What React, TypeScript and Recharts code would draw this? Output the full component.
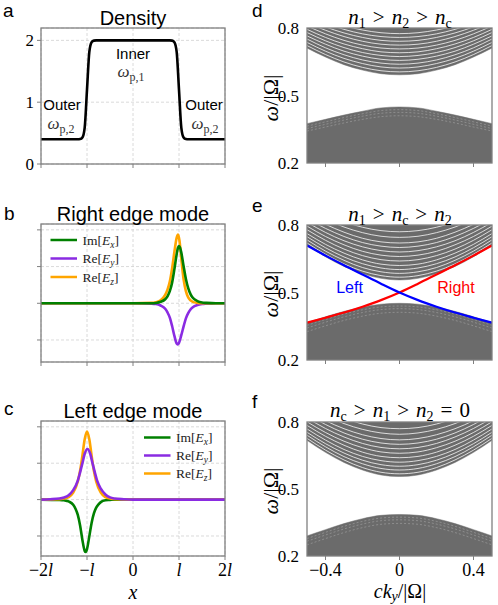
import React from "react";
import { ComposedChart, LineChart, Line, Area, XAxis, YAxis, CartesianGrid } from "recharts";

const SANS = "'Liberation Sans', Arial, sans-serif";
const SERIF = "'Liberation Serif', 'Times New Roman', serif";
const GRAY_AXIS = "#808080";
const BAND = "#6b6b6b";

// ---------- left column ----------
const leftXTicks = [-2, -1, 0, 1, 2];
const leftXTickLabels = ["−2l", "−l", "0", "l", "2l"];
const densityYTicks = [0, 1, 2];
const densityYTickLabels = ["0", "1", "2"];
const modeYTicks = [-1, 0, 1, 2];

const densityX = [-2, -1.2, -1.15, -1.1, -1.05, -1.0, -0.95, -0.9, -0.85, -0.8, 0.8, 0.85, 0.9, 0.95, 1.0, 1.05, 1.1, 1.15, 1.2, 2];
const densityY = [0.4, 0.4, 0.404, 0.43, 0.59, 1.2, 1.81, 1.97, 1.996, 2, 2, 1.996, 1.97, 1.81, 1.2, 0.59, 0.43, 0.404, 0.4, 0.4];

// right edge mode (panel b)
const rImExX = [-2, 0, 0.4, 0.5, 0.6, 0.7, 0.75, 0.8, 0.85, 0.9, 0.95, 0.975, 1.0, 1.025, 1.05, 1.1, 1.15, 1.2, 1.25, 1.3, 1.4, 1.5, 1.6, 1.8, 2];
const rImExY = [0, 0, 0, 0.01, 0.04, 0.11, 0.19, 0.33, 0.56, 0.93, 1.34, 1.5, 1.56, 1.51, 1.38, 1.01, 0.66, 0.41, 0.25, 0.15, 0.06, 0.02, 0.01, 0, 0];
const rReEyX = [-2, 0, 0.4, 0.5, 0.6, 0.7, 0.75, 0.8, 0.85, 0.9, 0.95, 0.97, 1.0, 1.05, 1.1, 1.15, 1.2, 1.25, 1.3, 1.4, 1.5, 1.6, 1.8, 2];
const rReEyY = [0, 0, -0.01, -0.02, -0.06, -0.15, -0.25, -0.39, -0.62, -0.89, -1.1, -1.12, -1.08, -0.87, -0.63, -0.41, -0.27, -0.17, -0.11, -0.05, -0.02, -0.01, 0, 0];
const rReEzX = [-2, 0, 0.4, 0.5, 0.6, 0.7, 0.75, 0.8, 0.85, 0.9, 0.95, 0.98, 1.01, 1.05, 1.1, 1.15, 1.2, 1.25, 1.3, 1.4, 1.5, 2];
const rReEzY = [0, 0, 0.01, 0.03, 0.08, 0.23, 0.37, 0.59, 0.95, 1.4, 1.79, 1.87, 1.71, 1.21, 0.65, 0.33, 0.16, 0.08, 0.04, 0.01, 0, 0];

// left edge mode (panel c)
const lImExX = [-2, -1.6, -1.5, -1.4, -1.3, -1.25, -1.2, -1.15, -1.1, -1.05, -1.03, -1.0, -0.95, -0.9, -0.85, -0.8, -0.75, -0.7, -0.6, -0.5, -0.4, 0, 2];
const lImExY = [0, -0.01, -0.02, -0.05, -0.14, -0.25, -0.42, -0.71, -1.11, -1.41, -1.44, -1.36, -1.01, -0.64, -0.38, -0.22, -0.13, -0.07, -0.02, -0.01, 0, 0, 0];
const lReEyX = [-2, -1.8, -1.6, -1.5, -1.4, -1.3, -1.2, -1.15, -1.1, -1.05, -0.99, -0.93, -0.88, -0.83, -0.78, -0.7, -0.6, -0.5, -0.4, -0.2, 0, 2];
const lReEyY = [0, 0.01, 0.03, 0.06, 0.12, 0.26, 0.52, 0.75, 1.0, 1.26, 1.39, 1.26, 1.0, 0.75, 0.52, 0.3, 0.14, 0.06, 0.03, 0.01, 0, 0];
const lReEzX = [-2, -1.6, -1.5, -1.4, -1.3, -1.2, -1.15, -1.1, -1.05, -1.0, -0.95, -0.9, -0.85, -0.8, -0.7, -0.6, -0.5, -0.4, 0, 2];
const lReEzY = [0, 0.01, 0.03, 0.07, 0.19, 0.5, 0.79, 1.21, 1.66, 1.87, 1.66, 1.21, 0.79, 0.5, 0.19, 0.07, 0.03, 0.01, 0, 0];

// ---------- right column (band structures) ----------
const kValues = [-0.5, -0.4, -0.3, -0.2, -0.1, 0, 0.1, 0.2, 0.3, 0.4, 0.5];
const rightXTicks = [-0.4, 0, 0.4];
const rightXTickLabels = ["−0.4", "0", "0.4"];
const rightYTicks = [0.2, 0.5, 0.8];
const rightYTickLabels = ["0.2", "0.5", "0.8"];

// symmetric halves: values at k = 0, 0.1, ..., 0.5
const dUpperEdge = [0.592, 0.597, 0.613, 0.637, 0.671, 0.711];
const dLowerEdge = [0.449, 0.445, 0.43, 0.413, 0.394, 0.375];
const dStripes = [
  [0.605, 0.61, 0.625, 0.649, 0.682, 0.722],
  [0.622, 0.627, 0.642, 0.665, 0.697, 0.736],
  [0.639, 0.644, 0.658, 0.681, 0.712, 0.751],
  [0.656, 0.661, 0.675, 0.697, 0.728, 0.765],
  [0.673, 0.678, 0.691, 0.713, 0.743, 0.78],
  [0.69, 0.694, 0.708, 0.729, 0.758, 0.794],
  [0.707, 0.711, 0.724, 0.745, 0.774, 0.809],
  [0.724, 0.728, 0.741, 0.762, 0.79, 0.823],
  [0.741, 0.745, 0.758, 0.778, 0.805, 0.839],
  [0.758, 0.762, 0.774, 0.794, 0.82, 0.85],
  [0.775, 0.779, 0.791, 0.81, 0.84, 0.87],
];
const dLowStripes = [
  [0.437, 0.433, 0.419, 0.402, 0.383, 0.364],
  [0.425, 0.421, 0.408, 0.391, 0.372, 0.353],
  [0.41, 0.406, 0.394, 0.378, 0.36, 0.342],
];

const eUpperEdge = [0.556, 0.563, 0.584, 0.616, 0.659, 0.711];
const eLowerEdge = [0.452, 0.448, 0.435, 0.416, 0.392, 0.366];
const eStripes = [
  [0.568, 0.575, 0.595, 0.627, 0.67, 0.72],
  [0.585, 0.592, 0.611, 0.643, 0.684, 0.734],
  [0.602, 0.609, 0.628, 0.658, 0.699, 0.748],
  [0.62, 0.626, 0.645, 0.675, 0.714, 0.762],
  [0.64, 0.646, 0.664, 0.693, 0.732, 0.779],
  [0.66, 0.666, 0.683, 0.712, 0.749, 0.795],
  [0.68, 0.686, 0.703, 0.73, 0.767, 0.812],
  [0.7, 0.706, 0.722, 0.749, 0.785, 0.828],
  [0.72, 0.725, 0.741, 0.768, 0.803, 0.844],
  [0.745, 0.75, 0.766, 0.791, 0.826, 0.867],
  [0.77, 0.775, 0.79, 0.815, 0.849, 0.889],
];
const eLowStripes = [
  [0.44, 0.436, 0.423, 0.404, 0.38, 0.354],
  [0.428, 0.424, 0.411, 0.392, 0.368, 0.342],
  [0.412, 0.408, 0.395, 0.376, 0.352, 0.326],
];
// edge-state branches (full k range, -0.5 .. 0.5)
const eLeftBranch = [0.709, 0.664, 0.621, 0.58, 0.539, 0.5, 0.466, 0.437, 0.411, 0.388, 0.366];
const eRightBranch = [0.366, 0.388, 0.411, 0.437, 0.466, 0.5, 0.539, 0.58, 0.621, 0.664, 0.709];

const fUpperEdge = [0.556, 0.563, 0.585, 0.619, 0.664, 0.718];
const fLowerEdge = [0.386, 0.382, 0.367, 0.345, 0.318, 0.29];
const fStripes = [
  [0.568, 0.575, 0.596, 0.63, 0.674, 0.727],
  [0.585, 0.592, 0.613, 0.645, 0.689, 0.741],
  [0.602, 0.609, 0.629, 0.661, 0.703, 0.754],
  [0.62, 0.627, 0.646, 0.677, 0.719, 0.769],
  [0.64, 0.646, 0.665, 0.696, 0.736, 0.785],
  [0.66, 0.666, 0.685, 0.714, 0.753, 0.801],
  [0.68, 0.686, 0.704, 0.733, 0.771, 0.818],
  [0.7, 0.706, 0.723, 0.751, 0.789, 0.834],
  [0.72, 0.726, 0.743, 0.77, 0.806, 0.851],
  [0.745, 0.751, 0.767, 0.793, 0.828, 0.871],
  [0.77, 0.775, 0.791, 0.817, 0.851, 0.892],
];
const fLowStripes = [
  [0.374, 0.37, 0.355, 0.333, 0.306, 0.278],
  [0.362, 0.358, 0.343, 0.321, 0.294, 0.266],
  [0.346, 0.342, 0.327, 0.305, 0.278, 0.25],
];

// ---------- helpers ----------
const pts = (xs: number[], ys: number[]) => xs.map((x, i) => ({ x, y: ys[i] }));
const mirror = (half: number[]) => [...half.slice(1).reverse(), ...half];

function bandRows(upper: number[], lower: number[], stripes: number[][], lowStripes: number[][], left?: number[], right?: number[]) {
  const up = mirror(upper);
  const lo = mirror(lower);
  const st = stripes.map(mirror);
  const lst = lowStripes.map(mirror);
  return kValues.map((k, i) => {
    const row: any = { k, up: up[i], lo: lo[i] };
    st.forEach((s, j) => (row["s" + j] = s[i]));
    lst.forEach((s, j) => (row["t" + j] = s[i]));
    if (left) row.left = left[i];
    if (right) row.right = right[i];
    return row;
  });
}

const dRows = bandRows(dUpperEdge, dLowerEdge, dStripes, dLowStripes);
const eRows = bandRows(eUpperEdge, eLowerEdge, eStripes, eLowStripes, eLeftBranch, eRightBranch);
const fRows = bandRows(fUpperEdge, fLowerEdge, fStripes, fLowStripes);

type Box = { left: number; top: number; w: number; h: number };
const boxA: Box = { left: 41, top: 28, w: 184, h: 136 };
const boxB: Box = { left: 41, top: 224, w: 184, h: 138 };
const boxC: Box = { left: 41, top: 421, w: 184, h: 135 };
const boxD: Box = { left: 307, top: 28, w: 185, h: 135 };
const boxE: Box = { left: 307, top: 225, w: 185, h: 135 };
const boxF: Box = { left: 307, top: 422, w: 185, h: 134 };

const Empty = () => <g />;

function renderMathLabel(lab: string) {
  if (lab.endsWith("l")) {
    return [
      <tspan key="a">{lab.slice(0, -1)}</tspan>,
      <tspan key="b" fontStyle="italic">l</tspan>,
    ];
  }
  return lab;
}

const makeBottomTick = (ticks: number[], labels: string[]) => (props: any) => {
  const { x, y, payload } = props;
  const idx = ticks.findIndex((t) => Math.abs(t - payload.value) < 1e-9);
  const lab = idx >= 0 ? labels[idx] : "";
  return (
    <text x={x} y={y + 14} textAnchor="middle" fontFamily={SERIF} fontSize={18} fill="#000">
      {renderMathLabel(lab)}
    </text>
  );
};

const makeLeftTick = (ticks: number[], labels: string[]) => (props: any) => {
  const { x, y, payload } = props;
  const idx = ticks.findIndex((t) => Math.abs(t - payload.value) < 1e-9);
  const lab = idx >= 0 ? labels[idx] : "";
  return (
    <text x={x} y={y + 6} textAnchor="end" fontFamily={SERIF} fontSize={17} fill="#000">
      {lab}
    </text>
  );
};

const wrap = (b: Box): React.CSSProperties => ({ position: "absolute", left: b.left - 40, top: b.top - 10 });
const M = { top: 10, right: 10, bottom: 0, left: 0 };

function LeftPanel(props: {
  box: Box;
  yDomain: [number, number];
  yTicks: number[];
  yLabels?: string[];
  xLabels?: boolean;
  children: React.ReactNode;
}) {
  const { box, yDomain, yTicks, yLabels, xLabels } = props;
  return (
    <div style={wrap(box)}>
      <LineChart width={box.w + 50} height={box.h + 40} margin={M}>
        <CartesianGrid stroke="#d0d0d0" strokeDasharray="3 2" strokeWidth={0.8} />
        <XAxis
          dataKey="x"
          type="number"
          domain={[-2, 2]}
          ticks={leftXTicks}
          height={30}
          axisLine={false}
          tickSize={4}
          tickLine={{ stroke: GRAY_AXIS }}
          tick={xLabels ? makeBottomTick(leftXTicks, leftXTickLabels) : Empty}
          allowDataOverflow
        />
        <YAxis
          type="number"
          domain={yDomain}
          ticks={yTicks}
          width={40}
          axisLine={false}
          tickSize={4}
          tickLine={{ stroke: GRAY_AXIS }}
          tickMargin={3}
          tick={yLabels ? makeLeftTick(yTicks, yLabels) : Empty}
          allowDataOverflow
        />
        {props.children}
      </LineChart>
    </div>
  );
}

function BandPanel(props: { box: Box; rows: any[]; stripes: number; lowStripes: number; xLabels?: boolean; children?: React.ReactNode }) {
  const { box, rows, stripes, lowStripes, xLabels } = props;
  const lines = [];
  for (let j = 0; j < lowStripes; j++) {
    lines.push(
      <Line
        key={"t" + j}
        dataKey={"t" + j}
        type="monotone"
        stroke="#d8d8d8"
        strokeOpacity={0.35}
        strokeWidth={0.9}
        strokeDasharray="2 2"
        dot={false}
        isAnimationActive={false}
      />
    );
  }
  for (let j = 0; j < stripes; j++) {
    lines.push(
      <Line
        key={"s" + j}
        dataKey={"s" + j}
        type="monotone"
        stroke="#ffffff"
        strokeOpacity={0.85}
        strokeWidth={0.9}
        dot={false}
        isAnimationActive={false}
      />
    );
  }
  return (
    <div style={wrap(box)}>
      <ComposedChart width={box.w + 50} height={box.h + 40} margin={M} data={rows}>
        <XAxis
          dataKey="k"
          type="number"
          domain={[-0.5, 0.5]}
          ticks={rightXTicks}
          height={30}
          axisLine={false}
          tickSize={4}
          tickLine={{ stroke: GRAY_AXIS }}
          tick={xLabels ? makeBottomTick(rightXTicks, rightXTickLabels) : Empty}
          allowDataOverflow
        />
        <YAxis
          type="number"
          domain={[0.2, 0.8]}
          ticks={rightYTicks}
          width={40}
          axisLine={false}
          tickLine={false}
          tickMargin={2}
          tick={makeLeftTick(rightYTicks, rightYTickLabels)}
          allowDataOverflow
        />
        <Area dataKey="lo" type="monotone" baseValue={0.2} fill={BAND} fillOpacity={1} stroke={BAND} strokeWidth={0.5} isAnimationActive={false} />
        <Area dataKey="up" type="monotone" baseValue={0.8} fill={BAND} fillOpacity={1} stroke={BAND} strokeWidth={0.5} isAnimationActive={false} />
        {lines}
        {props.children}
      </ComposedChart>
    </div>
  );
}

const GREEN = "#008000";
const PURPLE = "#8a2be2";
const ORANGE = "#ffa500";

function LegendRow({ x, y, color, field, comp }: any) {
  return (
    <g>
      <line x1={x} x2={x + 26.5} y1={y} y2={y} stroke={color} strokeWidth={2.5} />
      <text x={x + 32} y={y + 4.5} fontFamily={SERIF} fontSize={13.5} fill="#222">
        {field}[<tspan fontStyle="italic">E</tspan>
        <tspan dy={3} fontSize={9.5} fontStyle="italic">{comp}</tspan>
        <tspan dy={-3}>]</tspan>
      </text>
    </g>
  );
}

const Frame = ({ b }: { b: Box }) => (
  <rect x={b.left} y={b.top} width={b.w} height={b.h} fill="none" stroke={GRAY_AXIS} strokeWidth={1.3} />
);

const SP = "\u2004";

function Overlay() {
  const title = { fontFamily: SANS, fontSize: 20, fill: "#000", textAnchor: "middle" as const };
  const letter = { fontFamily: SANS, fontSize: 19, fill: "#000" };
  const mathT = { fontFamily: SERIF, fontSize: 21, fill: "#000", textAnchor: "middle" as const };
  const ylab = (cy: number) => (
    <text
      x={0}
      y={0}
      transform={`translate(278, ${cy}) rotate(-90)`}
      textAnchor="middle"
      fontFamily={SERIF}
      fontSize={22}
      fill="#000"
    >
      <tspan fontStyle="italic">ω</tspan>/|Ω|
    </text>
  );
  const n = (sub: string) => [
    <tspan key="n" fontStyle="italic">n</tspan>,
    <tspan key="s" dy={4} fontSize={14}>{sub}</tspan>,
  ];
  const rel = (s: string) => <tspan dy={-4}>{SP + s + SP}</tspan>;
  return (
    <svg width={498} height={605} style={{ position: "absolute", left: 0, top: 0, pointerEvents: "none" }}>
      <Frame b={boxA} />
      <Frame b={boxB} />
      <Frame b={boxC} />
      <Frame b={boxD} />
      <Frame b={boxE} />
      <Frame b={boxF} />

      {/* panel letters */}
      <text x={3} y={17} {...letter}>a</text>
      <text x={4} y={220} {...letter}>b</text>
      <text x={4} y={415} {...letter}>c</text>
      <text x={252} y={17} {...letter}>d</text>
      <text x={252} y={212} {...letter}>e</text>
      <text x={252} y={408} {...letter}>f</text>

      {/* left titles */}
      <text x={133} y={24.5} {...title}>Density</text>
      <text x={133} y={221} {...title}>Right edge mode</text>
      <text x={133} y={418} {...title}>Left edge mode</text>

      {/* density annotations */}
      <text x={133} y={58.5} fontFamily={SANS} fontSize={15} textAnchor="middle" fill="#000">Inner</text>
      <text x={131} y={77} {...mathT} fontSize={17} fill="#333">
        <tspan fontStyle="italic">ω</tspan>
        <tspan dy={4} fontSize={12}>p,1</tspan>
      </text>
      <text x={62} y={109.5} fontFamily={SANS} fontSize={15} textAnchor="middle" fill="#000">Outer</text>
      <text x={61} y={129} {...mathT} fontSize={17} fill="#333">
        <tspan fontStyle="italic">ω</tspan>
        <tspan dy={4} fontSize={12}>p,2</tspan>
      </text>
      <text x={204} y={109.5} fontFamily={SANS} fontSize={15} textAnchor="middle" fill="#000">Outer</text>
      <text x={205} y={129} {...mathT} fontSize={17} fill="#333">
        <tspan fontStyle="italic">ω</tspan>
        <tspan dy={4} fontSize={12}>p,2</tspan>
      </text>

      {/* legends */}
      <LegendRow x={50.5} y={240} color={GREEN} field="Im" comp="x" />
      <LegendRow x={50.5} y={258.5} color={PURPLE} field="Re" comp="y" />
      <LegendRow x={50.5} y={277} color={ORANGE} field="Re" comp="z" />
      <LegendRow x={144} y={437.5} color={GREEN} field="Im" comp="x" />
      <LegendRow x={144} y={455.5} color={PURPLE} field="Re" comp="y" />
      <LegendRow x={144} y={473.5} color={ORANGE} field="Re" comp="z" />

      {/* x labels */}
      <text x={133} y={598.5} {...mathT} fontSize={20} fontStyle="italic">x</text>
      <text x={400} y={598} {...mathT} fontSize={20}>
        <tspan fontStyle="italic">ck</tspan>
        <tspan dy={3} fontSize={14} fontStyle="italic">y</tspan>
        <tspan dy={-3}>/|Ω|</tspan>
      </text>

      {/* right titles */}
      <text x={400} y={24} {...mathT}>
        {n("1")}
        {rel(">")}
        {n("2")}
        {rel(">")}
        {n("c")}
      </text>
      <text x={400} y={221} {...mathT}>
        {n("1")}
        {rel(">")}
        {n("c")}
        {rel(">")}
        {n("2")}
      </text>
      <text x={400} y={417} {...mathT}>
        {n("c")}
        {rel(">")}
        {n("1")}
        {rel(">")}
        {n("2")}
        {rel("=")}
        <tspan>0</tspan>
      </text>

      {/* y labels */}
      {ylab(98)}
      {ylab(294)}
      {ylab(491)}

      {/* edge mode labels */}
      <text x={349.5} y={293} fontFamily={SANS} fontSize={16} textAnchor="middle" fill="#0000ff">Left</text>
      <text x={456} y={293} fontFamily={SANS} fontSize={16} textAnchor="middle" fill="#ff0000">Right</text>
    </svg>
  );
}

export default function App() {
  return (
    <div style={{ position: "absolute", left: 0, top: 0, width: 498, height: 605, background: "#fff", overflow: "hidden" }}>
      <LeftPanel box={boxA} yDomain={[0, 2.2]} yTicks={densityYTicks} yLabels={densityYTickLabels}>
        <Line data={pts(densityX, densityY)} dataKey="y" type="monotone" stroke="#000" strokeWidth={2.6} dot={false} isAnimationActive={false} />
      </LeftPanel>
      <LeftPanel box={boxB} yDomain={[-1.6, 2.16]} yTicks={modeYTicks}>
        <Line data={pts(rReEyX, rReEyY)} dataKey="y" type="monotone" stroke={PURPLE} strokeWidth={2.6} dot={false} isAnimationActive={false} />
        <Line data={pts(rReEzX, rReEzY)} dataKey="y" type="monotone" stroke={ORANGE} strokeWidth={2.6} dot={false} isAnimationActive={false} />
        <Line data={pts(rImExX, rImExY)} dataKey="y" type="monotone" stroke={GREEN} strokeWidth={2.6} dot={false} isAnimationActive={false} />
      </LeftPanel>
      <LeftPanel box={boxC} yDomain={[-1.55, 2.16]} yTicks={modeYTicks} xLabels>
        <Line data={pts(lImExX, lImExY)} dataKey="y" type="monotone" stroke={GREEN} strokeWidth={2.6} dot={false} isAnimationActive={false} />
        <Line data={pts(lReEzX, lReEzY)} dataKey="y" type="monotone" stroke={ORANGE} strokeWidth={2.6} dot={false} isAnimationActive={false} />
        <Line data={pts(lReEyX, lReEyY)} dataKey="y" type="monotone" stroke={PURPLE} strokeWidth={2.6} dot={false} isAnimationActive={false} />
      </LeftPanel>

      <BandPanel box={boxD} rows={dRows} stripes={dStripes.length} lowStripes={dLowStripes.length} />
      <BandPanel box={boxE} rows={eRows} stripes={eStripes.length} lowStripes={eLowStripes.length}>
        <Line dataKey="right" type="monotone" stroke="#ff0000" strokeWidth={2.2} dot={false} isAnimationActive={false} />
        <Line dataKey="left" type="monotone" stroke="#0000ff" strokeWidth={2.2} dot={false} isAnimationActive={false} />
      </BandPanel>
      <BandPanel box={boxF} rows={fRows} stripes={fStripes.length} lowStripes={fLowStripes.length} xLabels />

      <Overlay />
    </div>
  );
}
